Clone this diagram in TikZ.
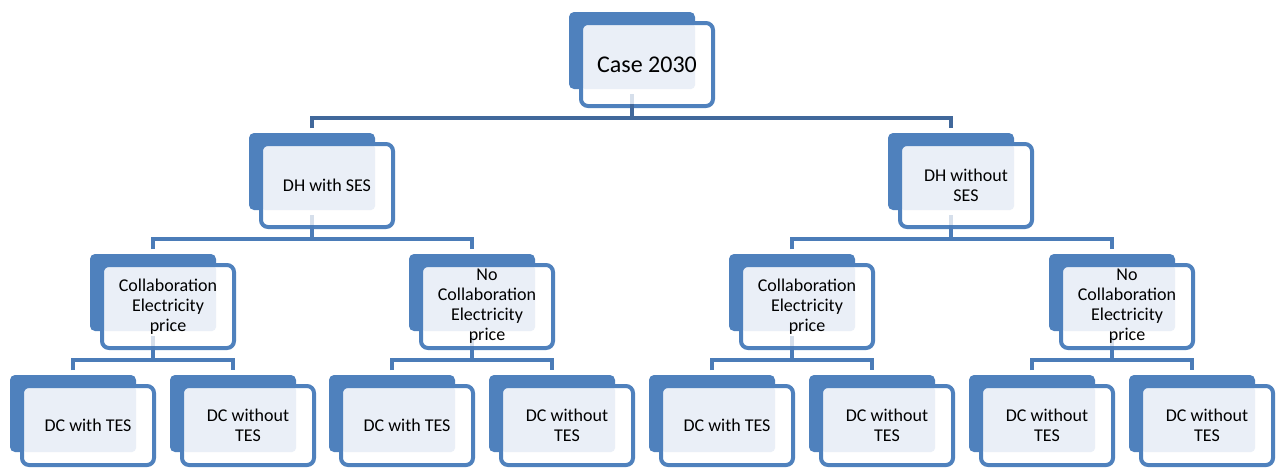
\documentclass[tikz,border=0pt]{standalone}
\usepackage{fontspec}
\setmainfont{Carlito}
\definecolor{boxblue}{HTML}{4F81BD}
\definecolor{panelfill}{HTML}{EAEFF7}
\definecolor{busdark}{HTML}{41689B}
\definecolor{busblue}{HTML}{4B7CB8}
\definecolor{ghost}{HTML}{D6DFEB}
\tikzset{
  backbox/.style={fill=boxblue, rounded corners=5pt},
  frontfill/.style={fill=white, rounded corners=7pt},
  panelbox/.style={fill=panelfill, rounded corners=4pt},
  frontline/.style={draw=boxblue, line width=4pt, rounded corners=7pt},
  boxlabel/.style={align=center, inner sep=0pt, text=black, font=\fontsize{18}{20}\selectfont},
  rootlabel/.style={font=\fontsize{24}{28}\selectfont},
  conndark/.style={draw=busdark, line width=4pt, line join=miter},
  connblue/.style={draw=busblue, line width=4pt, line join=miter},
  ghostline/.style={draw=ghost, line width=4pt},
}
% #1 name, #2 centre x of back box, #3 top y of back box, #4 front bottom offset, #5 extra label style, #6 text
\newcommand\orgnode[6]{%
  \path[backbox] (#2-63,#3) rectangle (#2+63,#3+77);
  \path[frontfill] (#2-51,#3+11) rectangle (#2+81,#3+#4-2);
  \path[panelbox] (#2-51,#3+11) rectangle (#2+63,#3+77);
  \draw[frontline] (#2-51,#3+11) rectangle (#2+81,#3+#4-2);
  \coordinate (#1-top) at (#2,#3-5);
  \coordinate (#1-in) at (#2,#3+82);
  \coordinate (#1-bot) at (#2,#3+#4-4);
  \ifnum#4>95 \draw[ghostline] (#1-in) -- (#1-bot);\fi
  \node[boxlabel,#5] (#1) at (#2+15,#3+4.5+#4/2) {#6};
}
% #1 parent, #2 child a, #3 child b, #4 bus y, #5 style
\newcommand\orgbus[5]{%
  \path (0,#4) coordinate (busy);
  \draw[#5] (#1-bot) -- (#1-bot |- busy);
  \draw[#5] (#2-top) -- (#2-top |- busy) -- (#3-top |- busy) -- (#3-top);
}
\begin{document}
\begin{tikzpicture}[x=1pt,y=-1pt]
\useasboundingbox[fill=white] (0,0) rectangle (1276,467);
% root
\orgnode{root}{632}{12}{96}{rootlabel}{Case 2030}
% level 1
\orgnode{dhs}{312}{133}{96}{}{DH with SES}
\orgnode{dhw}{951}{133}{96}{}{DH without\\SES}
% level 2
\orgnode{ca}{153}{254}{96}{}{Collaboration\\Electricity\\price}
\orgnode{na}{472}{254}{96}{}{No\\Collaboration\\Electricity\\price}
\orgnode{cb}{792}{254}{96}{}{Collaboration\\Electricity\\price}
\orgnode{nb}{1112}{254}{96}{}{No\\Collaboration\\Electricity\\price}
% level 3
\orgnode{l1}{73}{375}{92}{}{DC with TES}
\orgnode{l2}{233}{375}{92}{}{DC without\\TES}
\orgnode{l3}{392}{375}{92}{}{DC with TES}
\orgnode{l4}{552}{375}{92}{}{DC without\\TES}
\orgnode{l5}{712}{375}{92}{}{DC with TES}
\orgnode{l6}{872}{375}{92}{}{DC without\\TES}
\orgnode{l7}{1032}{375}{92}{}{DC without\\TES}
\orgnode{l8}{1192}{375}{92}{}{DC without\\TES}
% connectors
\orgbus{root}{dhs}{dhw}{117.5}{conndark}
\orgbus{dhs}{ca}{na}{238.5}{connblue}
\orgbus{dhw}{cb}{nb}{238.5}{connblue}
\orgbus{ca}{l1}{l2}{359.5}{connblue}
\orgbus{na}{l3}{l4}{359.5}{connblue}
\orgbus{cb}{l5}{l6}{359.5}{connblue}
\orgbus{nb}{l7}{l8}{359.5}{connblue}
\end{tikzpicture}
\end{document}
